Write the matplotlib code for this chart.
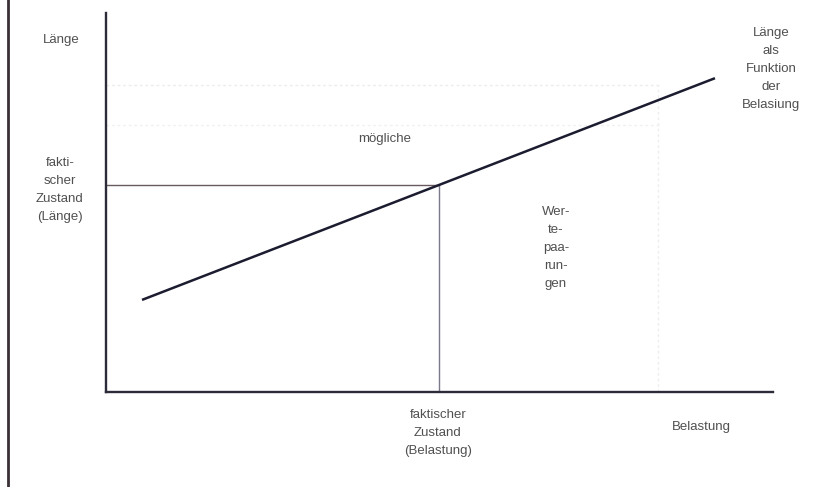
import matplotlib
matplotlib.use("Agg")
import matplotlib.pyplot as plt
from matplotlib.lines import Line2D

plt.rcParams['font.family'] = ['Liberation Sans', 'DejaVu Sans']

# Data (arbitrary units)
belastung = [5.4, 91.3]
laenge = [24.3, 82.8]
fakt_belastung = 50.0
fakt_laenge = 54.6

W, H = 837, 487
fig = plt.figure(figsize=(W / 100, H / 100), dpi=100)
fig.patch.set_facecolor('white')

def fx(px):
    return px / W

def fy(py):
    return 1 - py / H

ax = fig.add_axes([fx(106), fy(392), (773 - 106) / W, (392 - 13) / H])
ax.set_xlim(0, 100)
ax.set_ylim(0, 100)
for s in ['top', 'right']:
    ax.spines[s].set_visible(False)
for s in ['left', 'bottom']:
    ax.spines[s].set_color('#2b2b3a')
    ax.spines[s].set_linewidth(1.7)
ax.set_xticks([])
ax.set_yticks([])

# faint scan-like guide lines
ax.axhline(81, xmin=0.0, xmax=0.83, color='#ececec', lw=1, ls=(0, (2, 2)))
ax.axhline(70.5, xmin=0.0, xmax=0.83, color='#f0f0f0', lw=1, ls=(0, (2, 2)))
ax.axvline(82.8, ymin=0.0, ymax=0.81, color='#eeeeee', lw=1, ls=(0, (2, 2)))

# factual state lines
ax.plot([0, fakt_belastung], [fakt_laenge, fakt_laenge], color='#6a5a60', lw=1)
ax.plot([fakt_belastung, fakt_belastung], [0, fakt_laenge], color='#7a7a8a', lw=1)

# main function line
ax.plot(belastung, laenge, color='#1c1c30', lw=1.8, solid_capstyle='butt')

# left border line
fig.add_artist(Line2D([fx(8), fx(8)], [0, 1], color='#3a3035', lw=2))

tc = '#505050'
fs = 9.5
ls = 1.66
fig.text(fx(61), fy(40), 'Länge', ha='center', va='center', fontsize=fs, color=tc)
fig.text(fx(60), fy(190), 'fakti-\nscher\nZustand\n(Länge)', ha='center', va='center',
         fontsize=fs, color=tc, linespacing=ls)
fig.text(fx(385), fy(139), 'mögliche', ha='center', va='center', fontsize=fs, color=tc)
fig.text(fx(556), fy(248), 'Wer-\nte-\npaa-\nrun-\ngen', ha='center', va='center',
         fontsize=fs, color=tc, linespacing=ls)
fig.text(fx(771), fy(69), 'Länge\nals\nFunktion\nder\nBelasiung', ha='center', va='center',
         fontsize=fs, color=tc, linespacing=ls)
fig.text(fx(438), fy(433), 'faktischer\nZustand\n(Belastung)', ha='center', va='center',
         fontsize=fs, color=tc, linespacing=ls)
fig.text(fx(701), fy(427), 'Belastung', ha='center', va='center', fontsize=fs, color=tc)

fig.savefig('out.png', dpi=100, facecolor='white')
